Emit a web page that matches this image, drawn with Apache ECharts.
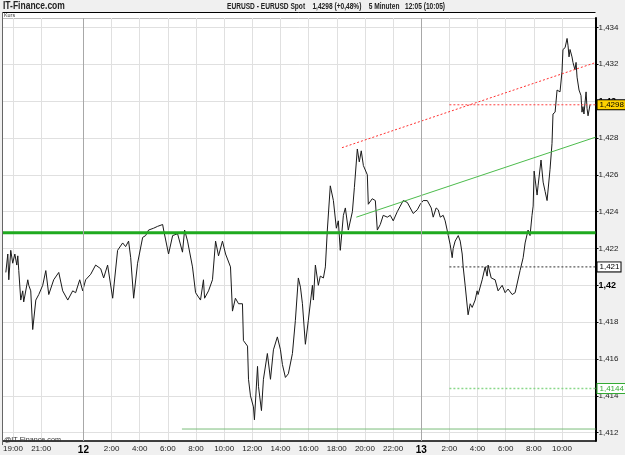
<!DOCTYPE html>
<html>
<head>
<meta charset="utf-8">
<script src="https://cdn.jsdelivr.net/npm/echarts@6/dist/echarts.min.js"></script>
<style>
  html, body { margin: 0; padding: 0; background: #f0f0f0; }
  #chart { width: 625px; height: 455px; }
</style>
</head>
<body>
<div id="chart"></div>
<script>
// EUR/USD 5 Minuten, Zeit in Stunden ab 12. 0:00
const kurs = [
  [-5.51,1.4207],[-5.37,1.4217],[-5.30,1.4203],[-5.16,1.4219],[-5.02,1.4212],[-4.87,1.4217],[-4.73,1.4211],[-4.66,1.4216],
  [-4.59,1.4208],[-4.45,1.4192],[-4.31,1.4197],[-4.24,1.4191],[-3.95,1.4203],[-3.88,1.4200],[-3.74,1.4197],[-3.60,1.4176],
  [-3.38,1.4192],[-3.17,1.4195],[-2.89,1.4200],[-2.67,1.4208],[-2.46,1.4195],[-2.11,1.4203],[-1.75,1.4207],[-1.47,1.4197],
  [-1.11,1.4192],[-0.76,1.4197],[-0.55,1.4196],[-0.26,1.4203],[-0.05,1.4197],[0.16,1.4203],[0.52,1.4206],[0.87,1.4211],
  [1.23,1.4209],[1.44,1.4204],[1.72,1.4211],[2.08,1.4193],[2.43,1.4219],[2.79,1.4223],[3.00,1.4221],[3.21,1.4224],
  [3.36,1.4215],[3.57,1.4193],[3.85,1.4212],[3.99,1.4213],[4.21,1.4226],[4.42,1.4227],[4.63,1.4230],[4.99,1.4231],
  [5.27,1.4232],[5.63,1.4233],[5.70,1.4230],[6.05,1.4217],[6.34,1.4227],[6.69,1.4228],[7.04,1.4218],[7.19,1.4230],
  [7.40,1.4224],[7.75,1.4210],[7.97,1.4196],[8.32,1.4192],
  [8.53,1.4203],[8.61,1.4193],[8.89,1.4197],[9.17,1.4203],[9.39,1.4224],[9.60,1.4216],[9.88,1.4224],[10.10,1.4217],
  [10.45,1.4210],[10.59,1.4186],[10.80,1.4193],[11.02,1.4190],[11.30,1.4190],[11.37,1.4170],[11.66,1.4167],[11.73,1.4149],
  [11.87,1.4140],[12.08,1.4134],[12.15,1.4127],[12.37,1.4156],[12.44,1.4145],[12.65,1.4132],[12.79,1.4149],[13.07,1.4163],
  [13.29,1.4149],[13.50,1.4165],[13.78,1.4172],[14.00,1.4165],[14.14,1.4157],[14.35,1.4150],[14.56,1.4152],[14.85,1.4163],
  [15.06,1.4181],[15.27,1.4204],[15.42,1.4199],[15.56,1.4190],[15.77,1.4168],[15.98,1.4181],[16.27,1.4200],[16.34,1.4192],
  [16.48,1.4211],[16.69,1.4200],[16.83,1.4205],[17.05,1.4204],[17.19,1.4210],[17.33,1.4230],[17.54,1.4254],[17.76,1.4246],
  [17.97,1.4231],[18.11,1.4235],[18.25,1.4219],[18.47,1.4238],[18.61,1.4242],[18.82,1.4230],[19.11,1.4240],[19.25,1.4253],
  [19.46,1.4274],[19.60,1.4267],[19.74,1.4273],[19.89,1.4265],[20.17,1.4260],[20.24,1.4244],[20.52,1.4247],[20.74,1.4246],
  [20.88,1.4230],[21.09,1.4233],[21.30,1.4238],[21.59,1.4237],[21.80,1.4238],[22.01,1.4235],[22.30,1.4240],[22.51,1.4243],
  [22.72,1.4246],[23.01,1.4245],[23.22,1.4242],[23.43,1.4239],[23.72,1.4241],[23.93,1.4244],[24.14,1.4246],[24.43,1.4246],
  [24.71,1.4242],[24.85,1.4237],[25.06,1.4242],[25.21,1.4241],[25.35,1.4237],[25.56,1.4238],[25.70,1.4235],[25.84,1.4230],
  [25.92,1.4227],[26.06,1.4222],[26.20,1.4215],[26.27,1.4220],[26.41,1.4224],[26.63,1.4227],[26.77,1.4224],[26.91,1.4217],
  [26.98,1.4210],[27.12,1.4200],[27.26,1.4199],[27.33,1.4184],[27.48,1.4190],[27.62,1.4188],[27.83,1.4192],[27.97,1.4197],
  [28.04,1.4195],[28.33,1.4203],[28.40,1.4204],[28.54,1.4210],[28.68,1.4205],[28.75,1.4211],[28.97,1.4204],[29.25,1.4203],
  [29.46,1.4197],[29.75,1.4200],[29.96,1.4196],[30.17,1.4198],[30.46,1.4195],[30.67,1.4196],[30.81,1.4197],[31.02,1.4208],
  [31.24,1.4215],[31.38,1.4223],[31.59,1.4230],[31.73,1.4227],[31.87,1.4238],[31.95,1.4243],[32.02,1.4262],[32.23,1.4249],
  [32.30,1.4254],[32.51,1.4268],[32.66,1.4256],[32.80,1.4251],[32.94,1.4246],[33.01,1.4245],[33.15,1.4263],[33.29,1.4277],
  [33.36,1.4293],[33.51,1.4294],[33.65,1.4306],[33.72,1.4307],[33.86,1.4305],[34.00,1.4316],[34.07,1.4328],[34.22,1.4329],
  [34.36,1.4334],[34.43,1.4330],[34.50,1.4324],[34.57,1.4328],[34.71,1.4324],[34.78,1.4321],[34.92,1.4317],[35.00,1.4321],
  [35.07,1.4313],[35.21,1.4306],[35.35,1.4303],[35.42,1.4294],[35.49,1.4297],[35.56,1.4293],[35.71,1.4305],[35.78,1.4296],
  [35.85,1.4292],[35.99,1.4298]
];

// Achsen
const xTicks = [-5, -3, 0, 2, 4, 6, 8, 10, 12, 14, 16, 18, 20, 22, 24, 26, 28, 30, 32, 34];
const xTickLabels = ['19:00', '21:00', '12', '2:00', '4:00', '6:00', '8:00', '10:00', '12:00', '14:00',
  '16:00', '18:00', '20:00', '22:00', '13', '2:00', '4:00', '6:00', '8:00', '10:00'];
const yTicks = [1.412, 1.414, 1.416, 1.418, 1.42, 1.422, 1.424, 1.426, 1.428, 1.43, 1.432, 1.434];
const dayBreaks = [0, 24];
const xMin = -5.725, xMax = 36.38;
const yMin = 1.41155, yMax = 1.43451;

// Linien / Marken
const supportLevel = 1.42285;
const bottomLine = [[7, 1.4122], [36.38, 1.4122]];
const redTrend = [[18.37, 1.42747], [36.38, 1.43209]];
const greenTrend = [[19.39, 1.4237], [36.38, 1.42804]];
const levelStart = 26;
const lastPrice = 1.4298;
const level1 = 1.421;
const level2 = 1.4144;

const titleText = 'EURUSD - EURUSD Spot    1,4298 (+0,48%)    5 Minuten   12:05 (10:05)';

const FONT = 'Liberation Sans, Arial, sans-serif';
const fmt = v => String(v).replace('.', ',');

// Titelbreite an die Vorlage anpassen (ca. x 227..445)
const measure = (text, font) => {
  const ctx = document.createElement('canvas').getContext('2d');
  ctx.font = font;
  return ctx.measureText(text).width;
};
const titleScale = 218 / measure(titleText, 'bold 9px ' + FONT);

const chart = echarts.init(document.getElementById('chart'));

const levelLine = (value, color, width, label) => ({
  type: 'line',
  data: [[levelStart, value], [xMax, value]],
  showSymbol: false,
  silent: true,
  z: 4,
  lineStyle: { color: color, type: [2, 2], width: width },
  endLabel: Object.assign({
    show: true,
    distance: 2,
    formatter: () => fmt(value),
    fontSize: 8,
    fontFamily: FONT,
    borderWidth: 1,
    padding: [1, 1, 0, 2]
  }, label)
});

chart.setOption({
  animation: false,
  backgroundColor: '#f0f0f0',
  grid: { left: 2, right: 29.5, top: 18, bottom: 10, show: true, backgroundColor: '#fff', borderWidth: 0 },
  xAxis: {
    type: 'value',
    min: xMin,
    max: xMax,
    axisLine: { show: true, onZero: false, lineStyle: { color: '#000', width: 1.5 } },
    axisTick: { show: false, customValues: xTicks },
    axisLabel: {
      customValues: xTicks,
      margin: 4,
      fontSize: 8,
      color: '#222',
      fontFamily: FONT,
      formatter: v => {
        const s = xTickLabels[xTicks.indexOf(v)];
        return s.indexOf(':') < 0 ? '{d|' + s + '}' : s;
      },
      rich: { d: { fontWeight: 'bold', fontSize: 10, color: '#000', fontFamily: FONT } }
    },
    splitLine: { show: true, lineStyle: { color: '#e0e0e0', width: 1 } }
  },
  yAxis: {
    type: 'value',
    position: 'right',
    min: yMin,
    max: yMax,
    axisLine: { show: true, onZero: false, lineStyle: { color: '#000', width: 2 } },
    axisTick: { show: true, customValues: yTicks, length: 3, lineStyle: { color: '#000' } },
    axisLabel: {
      customValues: yTicks,
      margin: 3,
      fontSize: 8,
      color: '#222',
      fontFamily: FONT,
      formatter: v => {
        const s = fmt(+v.toFixed(4));
        return Math.round(v * 1000) % 10 === 0 ? '{b|' + s + '}' : s;
      },
      rich: { b: { fontWeight: 'bold', fontSize: 9, color: '#000', fontFamily: FONT } }
    },
    splitLine: { show: true, lineStyle: { color: '#e0e0e0', width: 1 } }
  },
  series: [
    {
      // Tageswechsel
      type: 'line',
      data: [],
      silent: true,
      z: 1,
      markLine: {
        silent: true,
        symbol: ['none', 'none'],
        label: { show: false },
        lineStyle: { color: '#a8a8a8', type: 'solid', width: 1 },
        data: dayBreaks.map(v => ({ xAxis: v }))
      }
    },
    {
      name: 'Kurs',
      type: 'line',
      data: kurs,
      showSymbol: false,
      z: 3,
      lineStyle: { color: '#1a1a1a', width: 1 }
    },
    {
      type: 'line',
      data: [[xMin, supportLevel], [xMax, supportLevel]],
      showSymbol: false,
      silent: true,
      z: 4,
      lineStyle: { color: '#1faa1f', width: 3 }
    },
    {
      type: 'line',
      data: bottomLine,
      showSymbol: false,
      silent: true,
      z: 4,
      lineStyle: { color: '#7bbd7b', width: 1 }
    },
    {
      type: 'line',
      data: redTrend,
      showSymbol: false,
      silent: true,
      z: 4,
      lineStyle: { color: '#ff3030', width: 1, type: [2, 2] }
    },
    {
      type: 'line',
      data: greenTrend,
      showSymbol: false,
      silent: true,
      z: 4,
      lineStyle: { color: '#4cbc4c', width: 1 }
    },
    levelLine(lastPrice, '#ff4040', 1, { color: '#000', backgroundColor: '#ffd200', borderColor: '#000' }),
    levelLine(level1, '#333', 1, { color: '#000', backgroundColor: '#fff', borderColor: '#000' }),
    levelLine(level2, '#8ad88a', 1.5, { color: '#33aa33', backgroundColor: '#fff', borderColor: '#33aa33' })
  ],
  graphic: [
    { type: 'rect', silent: true, shape: { x: 2, y: 12, width: 593.5, height: 6 }, style: { fill: '#fff' } },
    { type: 'line', silent: true, shape: { x1: 2, y1: 12.5, x2: 595.5, y2: 12.5 }, style: { stroke: '#000', lineWidth: 1 } },
    { type: 'line', silent: true, shape: { x1: 2, y1: 18.5, x2: 595.5, y2: 18.5 }, style: { stroke: '#bbb', lineWidth: 1 } },
    { type: 'line', silent: true, z: 10, shape: { x1: 2.5, y1: 12, x2: 2.5, y2: 445 }, style: { stroke: '#666', lineWidth: 1 } },
    { type: 'text', silent: true, x: 4, y: 12.5, scaleX: 0.9, style: { text: 'Kurs', fontSize: 6, fill: '#333', fontFamily: FONT } },
    { type: 'text', silent: true, x: 3, y: 1, scaleX: 0.85, style: { text: 'IT-Finance.com', fontSize: 10, fontWeight: 'bold', fill: '#222', fontFamily: FONT } },
    { type: 'text', silent: true, x: 227, y: 2, scaleX: titleScale, style: { text: titleText, fontSize: 9, fontWeight: 'bold', fill: '#222', fontFamily: FONT } },
    { type: 'text', silent: true, z: 10, x: 4, y: 436, scaleX: 0.9, style: { text: '@IT-Finance.com', fontSize: 8, fill: '#333', fontFamily: FONT } }
  ]
});
</script>
</body>
</html>
